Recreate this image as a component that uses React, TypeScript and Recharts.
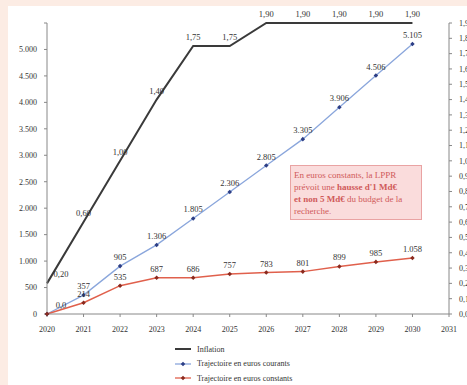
import React from 'react';
import { LineChart, Line, XAxis, YAxis } from 'recharts';

const years = [2020, 2021, 2022, 2023, 2024, 2025, 2026, 2027, 2028, 2029, 2030];
const inflation = [0.2, 0.6, 1.0, 1.4, 1.75, 1.75, 1.9, 1.9, 1.9, 1.9, 1.9];
const courants = [0, 357, 905, 1306, 1805, 2306, 2805, 3305, 3906, 4506, 5105];
const constants = [0, 214, 535, 687, 686, 757, 783, 801, 899, 985, 1058];

const xTicks = [2020, 2021, 2022, 2023, 2024, 2025, 2026, 2027, 2028, 2029, 2030, 2031];
const leftTicks = [0, 500, 1000, 1500, 2000, 2500, 3000, 3500, 4000, 4500, 5000, 5500];
const rightTicks = [0, 0.1, 0.2, 0.3, 0.4, 0.5, 0.6, 0.7, 0.8, 0.9, 1.0, 1.1, 1.2, 1.3, 1.4, 1.5, 1.6, 1.7, 1.8, 1.9];

const seriesNames = ['Inflation', 'Trajectoire en euros courants', 'Trajectoire en euros constants'];

const data = years.map((y, i) => ({ year: y, inflation: inflation[i], courants: courants[i], constants: constants[i] }));

const FONT = '"Liberation Serif", "DejaVu Serif", serif';

const fmtThousands = (n: number) => {
  if (n >= 1000) return `${Math.floor(n / 1000)}.${String(n % 1000).padStart(3, '0')}`;
  return String(n);
};
const fmtComma = (v: number, d: number) => v.toFixed(d).replace('.', ',');

const makeLabel = (fmt: (v: number, i: number) => string | null, firstShift: number) => (props: any) => {
  const { x, y, value, index } = props;
  const txt = fmt(value, index);
  if (txt === null || x == null || y == null) return null;
  return (
    <text x={x + (index === 0 ? firstShift : 0)} y={y - 6} textAnchor="middle" fontSize={8.5} fontFamily={FONT} fill="#333">
      {txt}
    </text>
  );
};

const Dot = (color: string) => (props: any) => {
  const { cx, cy } = props;
  if (cx == null || cy == null) return null;
  return <rect x={cx - 1.6} y={cy - 1.6} width={3.2} height={3.2} fill={color} transform={`rotate(45 ${cx} ${cy})`} />;
};

export default function App() {
  return (
    <div style={{ position: 'absolute', left: 0, top: 0, width: 467, height: 385, background: '#fcece4', overflow: 'hidden' }}>
      <div style={{ position: 'absolute', left: 8, top: 6, width: 459, height: 379, background: '#ffffff' }} />
      <div style={{ position: 'absolute', left: 0, top: 0 }}>
        <LineChart width={467} height={385} data={data} margin={{ top: 23, right: 0, bottom: 51, left: 8 }}>
          <XAxis
            dataKey="year"
            type="number"
            domain={[2020, 2031]}
            ticks={xTicks}
            tick={{ fontSize: 8, fontFamily: FONT, fill: '#333' }}
            tickSize={3}
            tickMargin={9}
            stroke="#888"
            height={20}
            interval={0}
          />
          <YAxis
            yAxisId="left"
            domain={[0, 5500]}
            ticks={leftTicks}
            tickFormatter={(v: number) => (v === 5500 ? '' : fmtThousands(v))}
            tick={{ fontSize: 8, fontFamily: FONT, fill: '#333' }}
            tickSize={3}
            tickMargin={7}
            stroke="#888"
            width={39}
            interval={0}
          />
          <YAxis
            yAxisId="right"
            orientation="right"
            domain={[0, 1.9]}
            ticks={rightTicks}
            tickFormatter={(v: number) => fmtComma(v, 1)}
            tick={{ fontSize: 8, fontFamily: FONT, fill: '#333' }}
            tickSize={3}
            tickMargin={7}
            stroke="#888"
            width={18}
            interval={0}
          />
          <Line
            yAxisId="right"
            dataKey="inflation"
            stroke="#3a3a3a"
            strokeWidth={2}
            dot={false}
            isAnimationActive={false}
            label={makeLabel((v) => fmtComma(v, 2), 14)}
          />
          <Line
            yAxisId="left"
            dataKey="courants"
            stroke="#8aa6dc"
            strokeWidth={1.3}
            dot={Dot('#2c3e86')}
            isAnimationActive={false}
            label={makeLabel((v, i) => (i === 0 ? '0,0' : fmtThousands(v)), 14)}
          />
          <Line
            yAxisId="left"
            dataKey="constants"
            stroke="#e0604c"
            strokeWidth={1.5}
            dot={Dot('#8a2a1e')}
            isAnimationActive={false}
            label={makeLabel((v, i) => (i === 0 ? null : fmtThousands(v)), 0)}
          />
        </LineChart>
      </div>
      <div
        style={{
          position: 'absolute',
          left: 290,
          top: 165,
          width: 132,
          height: 55,
          background: '#fadcdc',
          border: '1px solid #e9a3a3',
          color: '#d05a5a',
          fontFamily: FONT,
          fontSize: 9,
          lineHeight: '12px',
          padding: '3px 3px',
          boxSizing: 'border-box',
          whiteSpace: 'nowrap',
        }}
      >
        <div>En euros constants, la LPPR</div>
        <div>prévoit une <b>hausse d'1 Md€</b></div>
        <div><b>et non 5 Md€</b> du budget de la</div>
        <div>recherche.</div>
      </div>
      <div style={{ position: 'absolute', left: 175, top: 342, fontFamily: FONT, fontSize: 8, color: '#333' }}>
        {seriesNames.map((name, i) => (
          <div key={name} style={{ display: 'flex', alignItems: 'center', height: 14.5 }}>
            <svg width={16} height={8} style={{ marginRight: 6 }}>
              <line x1={0} y1={4} x2={16} y2={4} stroke={['#3a3a3a', '#8aa6dc', '#e0604c'][i]} strokeWidth={i === 0 ? 2 : 1.3} />
              {i > 0 && (
                <rect x={6.4} y={2.4} width={3.2} height={3.2} fill={['', '#2c3e86', '#8a2a1e'][i]} transform="rotate(45 8 4)" />
              )}
            </svg>
            <span>{name}</span>
          </div>
        ))}
      </div>
    </div>
  );
}
